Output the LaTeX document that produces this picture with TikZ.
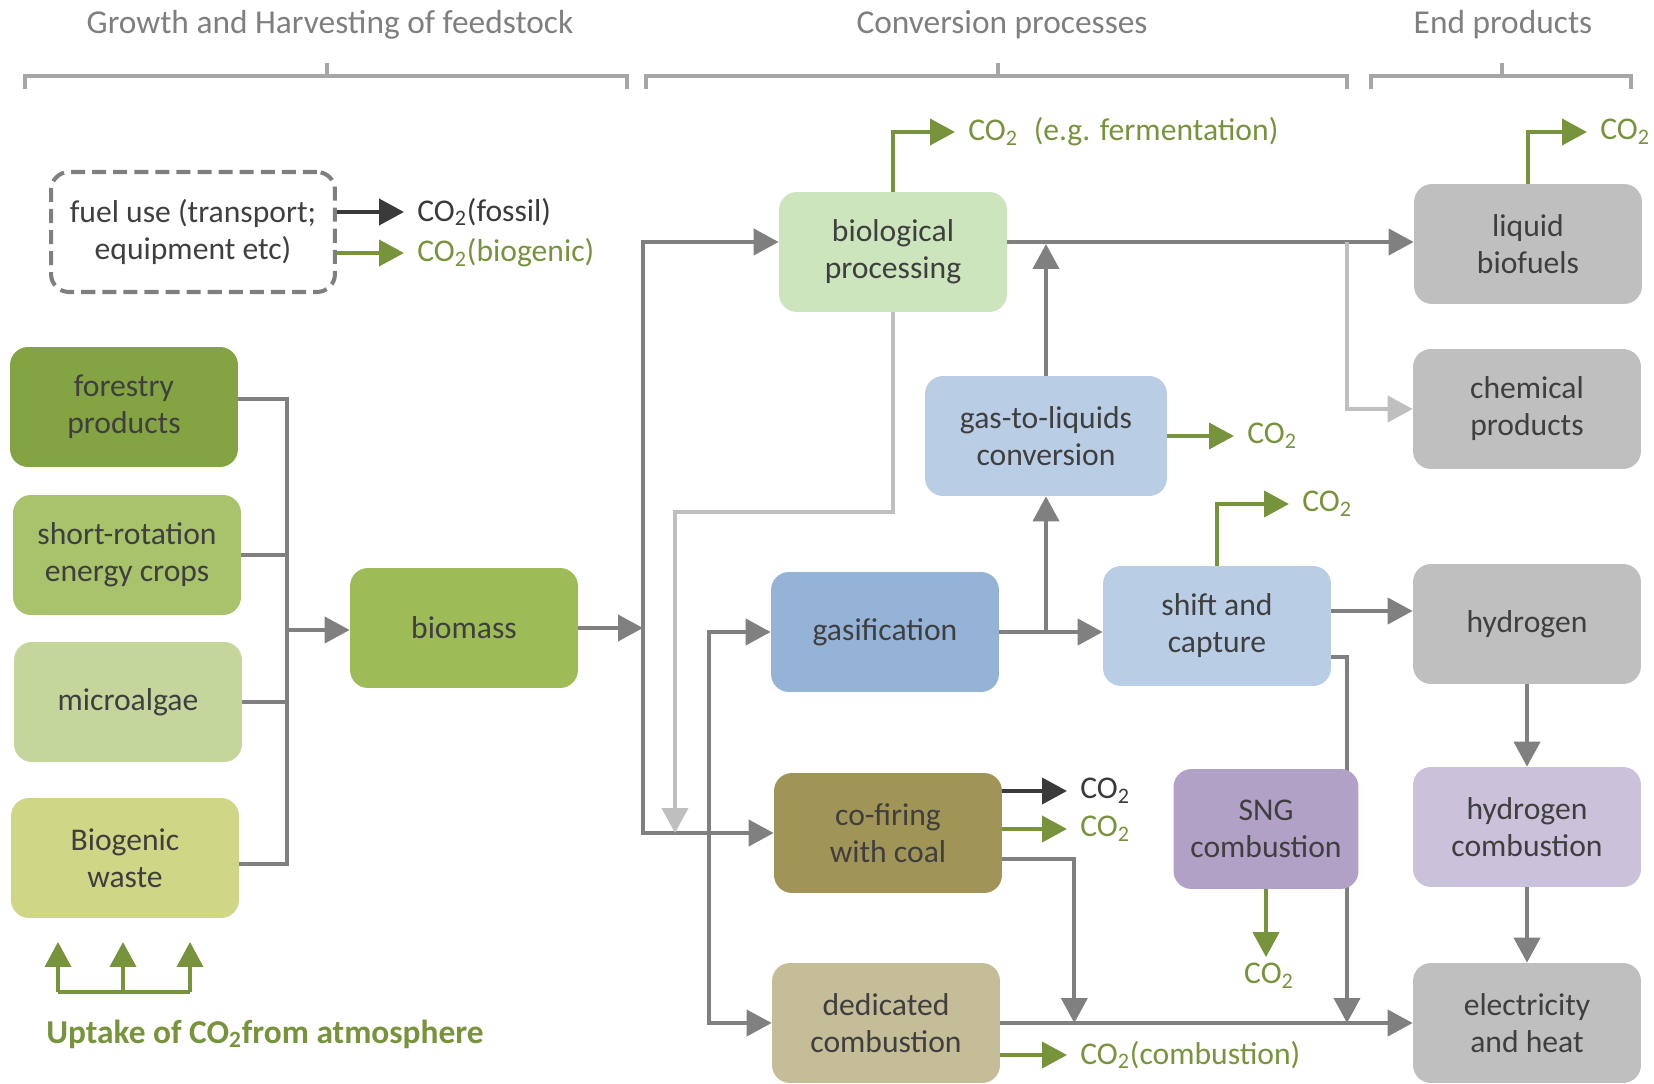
\documentclass[tikz,border=0pt]{standalone}
\usepackage{fontspec}
\setmainfont{Carlito}
\usetikzlibrary{arrows.meta,backgrounds}

\definecolor{txt}{HTML}{3F3F3F}
\definecolor{flowgray}{HTML}{808080}
\definecolor{palegray}{HTML}{BFBFBF}
\definecolor{bracketc}{HTML}{A6A6A6}
\definecolor{dashc}{HTML}{7F7F7F}
\definecolor{titlec}{HTML}{7F7F7F}
\definecolor{co2green}{HTML}{77933C}
\definecolor{co2black}{HTML}{3A3A3A}
\definecolor{forestc}{HTML}{84A443}
\definecolor{cropc}{HTML}{A8C36C}
\definecolor{algaec}{HTML}{C4D69C}
\definecolor{wastec}{HTML}{CFD685}
\definecolor{biomassc}{HTML}{9DBB57}
\definecolor{bioc}{HTML}{CCE5BD}
\definecolor{gasc}{HTML}{95B3D7}
\definecolor{lightblue}{HTML}{B9CDE5}
\definecolor{coalc}{HTML}{A09456}
\definecolor{dedc}{HTML}{C4BD97}
\definecolor{sngc}{HTML}{B2A1C7}
\definecolor{hcombc}{HTML}{CCC1DA}
\definecolor{endc}{HTML}{BFBFBF}

\newcommand{\cotwo}{CO\textsubscript{2}}

\begin{document}
\begin{tikzpicture}[x=0.02cm,y=-0.02cm,
	font=\fontsize{18}{21}\selectfont,
	box/.style={rounded corners=0.36cm,minimum width=4.56cm,minimum height=2.4cm,inner sep=0pt,align=center,text=txt},
	line/.style={draw=flowgray,line width=2.3pt},
	flow/.style={line,-{Triangle[length=0.5cm,width=0.52cm]}},
	lightflow/.style={flow,draw=palegray},
	greenflow/.style={flow,draw=co2green},
	blackflow/.style={flow,draw=co2black},
	lbl/.style={anchor=west,inner xsep=0.26cm,inner ysep=0pt,text=co2green},
	bracket/.style={draw=bracketc,line width=1.8pt},
	title/.style={text=titlec,font=\fontsize{19}{22}\selectfont}]
	\useasboundingbox (0,0) rectangle (1654,1084);
	
	%	titles
	\node[title] (growth) at (330,25) {Growth and Harvesting of feedstock};
	\node[title] (conv) at (1002,25) {Conversion processes};
	\node[title] (endp) at (1503,25) {End products};
	\foreach \a/\b/\m in {25/627/327,646/1347/998,1371/1631/1502}
		\draw[bracket] (\a,89) |- (\b,76) -- (\b,89) (\m,76) -- (\m,63);
	
	%	feedstock
	\node[box,draw=dashc,line width=2.3pt,dash pattern=on 8pt off 4pt,minimum width=5.68cm] (fuel) at (193,232) {fuel use (transport;\\equipment etc)};
	\node[box,fill=forestc] (forestry) at (124,407) {forestry\\products};
	\node[box,fill=cropc] (crops) at (127,555) {short-rotation\\energy crops};
	\node[box,fill=algaec] (algae) at (128,702) {microalgae};
	\node[box,fill=wastec] (waste) at (125,858) {Biogenic\\waste};
	\node[box,fill=biomassc] (biomass) at (464,628) {biomass};
	
	%	conversion
	\node[box,fill=bioc] (bio) at (893,252) {biological\\processing};
	\node[box,fill=lightblue,minimum width=4.84cm] (gtl) at (1046,436) {gas-to-liquids\\conversion};
	\node[box,fill=gasc] (gasif) at (885,632) {gasification};
	\node[box,fill=lightblue] (shift) at (1217,626) {shift and\\capture};
	\node[box,fill=coalc] (cofire) at (888,833) {co-firing\\with coal};
	\node[box,fill=dedc] (ded) at (886,1023) {dedicated\\combustion};
	\node[box,fill=sngc,minimum width=3.7cm] (sng) at (1266,829) {SNG\\combustion};
	
	%	end products
	\node[box,fill=endc] (liquid) at (1528,244) {liquid\\biofuels};
	\node[box,fill=endc] (chem) at (1527,409) {chemical\\products};
	\node[box,fill=endc] (hydrogen) at (1527,624) {hydrogen};
	\node[box,fill=hcombc] (hcomb) at (1527,827) {hydrogen\\combustion};
	\node[box,fill=endc] (elec) at (1527,1023) {electricity\\and heat};
	
	%	CO2 labels
	\node[lbl,text=co2black] (fossil) at (404,212) {\cotwo(fossil)};
	\node[lbl] (biogenic) at (404,253) {\cotwo(biogenic)};
	\node[lbl] (ferm) at (955,132) {\cotwo\enspace(e.g. fermentation)};
	\node[lbl] (co2gtl) at (1234,436) {\cotwo};
	\node[lbl] (co2shift) at (1289,504) {\cotwo};
	\node[lbl] (co2fuel) at (1587,132) {\cotwo};
	\node[lbl,text=co2black] (co2coal) at (1067,791) {\cotwo};
	\node[lbl] (co2cofire) at (1067,829) {\cotwo};
	\node[lbl] (co2comb) at (1067,1055) {\cotwo(combustion)};
	\node[text=co2green,inner sep=0.12cm] (co2sng) at (1269,976) {\cotwo};
	\node[anchor=west,inner sep=0pt,text=co2green,font=\fontsize{19}{22}\selectfont\bfseries] (uptake) at (46,1034) {Uptake of \cotwo from atmosphere};
	
	\draw[blackflow] (fuel.east |- fossil.west) -- (fossil.west);
	\draw[greenflow] (fuel.east |- biogenic.west) -- (biogenic.west);
	
	%	collecting the feedstock
	\coordinate (hub) at (287,630);
	\draw[line] ([yshift=0.16cm]forestry.east) -| (hub) |- ([yshift=-0.12cm]waste.east);
	\draw[line] (crops.east) -- (crops.east -| hub) (algae.east) -- (algae.east -| hub);
	\draw[flow] (hub) -- (hub -| biomass.west);
	
	%	biomass to conversion
	\coordinate (split) at (643,630);
	\coordinate (fork) at (709,833);
	\draw[flow] (biomass.east) -- (biomass.east -| split);
	\draw[flow] (split) |- ([yshift=0.2cm]bio.west);
	\draw[flow] (split) |- (cofire.west);
	\draw[flow] (fork) |- (gasif.west);
	\draw[flow] (fork) |- (ded.west);
	
	%	biological route
	\coordinate (drop) at (675,512);
	\draw[flow] ([yshift=0.2cm]bio.east) -- ([yshift=0.2cm]bio.east -| liquid.west);
	\draw[greenflow] (bio.north) |- (ferm.west);
	\draw[lightflow] (bio.south) |- (drop) -- (drop |- cofire.west);
	\draw[greenflow] (liquid.north) |- (co2fuel.west);
	
	%	thermal route
	\coordinate (gap) at (1347,242);
	\draw[flow] (gtl.north) -- (gtl.north |- liquid.west);
	\draw[greenflow] (gtl.east) -- (co2gtl.west);
	\draw[flow] (gasif.east) -- (gasif.east -| shift.west);
	\draw[flow] (gasif.east -| gtl.south) -- (gtl.south);
	\draw[greenflow] (shift.north) |- (co2shift.west);
	\draw[flow] ([yshift=0.3cm]shift.east) -- ([yshift=0.3cm]shift.east -| hydrogen.west);
	\draw[lightflow] (gap) |- (chem.west);
	\begin{scope}[on background layer]
		\draw[flow] ([yshift=-0.62cm]shift.east) -| (gap |- ded.east);
	\end{scope}
	\draw[flow] (hydrogen.south) -- (hcomb.north);
	\draw[flow] (hcomb.south) -- (elec.north);
	\draw[greenflow] (sng.south) -- (sng.south |- co2sng.north);
	
	%	combustion
	\draw[blackflow] (cofire.east |- co2coal.west) -- (co2coal.west);
	\draw[greenflow] (cofire.east |- co2cofire.west) -- (co2cofire.west);
	\draw[flow] ([yshift=-0.52cm]cofire.east) -| ([xshift=1.48cm]ded.east);
	\draw[flow] (ded.east) -- (ded.east -| elec.west);
	\draw[greenflow] (ded.east |- co2comb.west) -- (co2comb.west);
	
	%	uptake
	\draw[line,draw=co2green] (58,992) -- (190,992);
	\foreach \x in {58,123,190}
		\draw[greenflow] (\x,992) -- (\x,942);
\end{tikzpicture}
\end{document}
